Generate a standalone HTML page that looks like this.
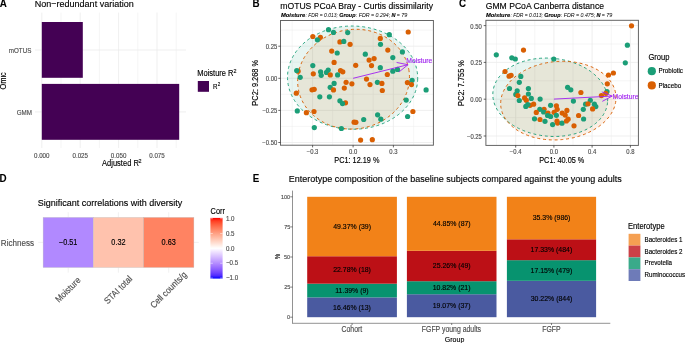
<!DOCTYPE html>
<html><head><meta charset="utf-8"><style>
html,body{margin:0;padding:0;background:#fff;}
svg{display:block;will-change:transform;font-family:"Liberation Sans",sans-serif;}
</style></head><body>
<svg width="685" height="343" viewBox="0 0 685 343">
<rect width="685" height="343" fill="#fff"/>
<text x="-0.15" y="6.90" font-size="9.80" fill="#000" stroke="#000" stroke-width="0.07" style="font-weight:bold" transform="matrix(1 0 0 1.0300 0 -0.207)">A</text>
<text x="34.69" y="7.00" font-size="9.04" fill="#000" stroke="#000" stroke-width="0.13" transform="matrix(1 0 0 1.0800 0 -0.560)">Non−redundant variation</text>
<line x1="61.00" y1="12.60" x2="61.00" y2="148.00" stroke="#EBEBEB" stroke-width="0.50"/>
<line x1="99.40" y1="12.60" x2="99.40" y2="148.00" stroke="#EBEBEB" stroke-width="0.50"/>
<line x1="137.80" y1="12.60" x2="137.80" y2="148.00" stroke="#EBEBEB" stroke-width="0.50"/>
<line x1="176.20" y1="12.60" x2="176.20" y2="148.00" stroke="#EBEBEB" stroke-width="0.50"/>
<line x1="41.80" y1="12.60" x2="41.80" y2="148.00" stroke="#EBEBEB" stroke-width="0.80"/>
<line x1="80.20" y1="12.60" x2="80.20" y2="148.00" stroke="#EBEBEB" stroke-width="0.80"/>
<line x1="118.60" y1="12.60" x2="118.60" y2="148.00" stroke="#EBEBEB" stroke-width="0.80"/>
<line x1="157.00" y1="12.60" x2="157.00" y2="148.00" stroke="#EBEBEB" stroke-width="0.80"/>
<line x1="35.00" y1="50.00" x2="186.00" y2="50.00" stroke="#EBEBEB" stroke-width="0.80"/>
<line x1="35.00" y1="111.90" x2="186.00" y2="111.90" stroke="#EBEBEB" stroke-width="0.80"/>
<rect x="41.80" y="22.00" width="41.00" height="55.80" fill="#440154"/>
<rect x="41.80" y="83.90" width="137.40" height="55.90" fill="#440154"/>
<text x="8.79" y="53.00" font-size="6.25" fill="#4D4D4D" stroke="#4D4D4D" stroke-width="0.13" transform="matrix(1 0 0 1.1200 0 -6.360)">mOTUS</text>
<text x="16.65" y="114.90" font-size="6.25" fill="#4D4D4D" stroke="#4D4D4D" stroke-width="0.13" transform="matrix(1 0 0 1.1200 0 -13.788)">GMM</text>
<text x="-2.83" y="80.80" font-size="7.40" fill="#000" stroke="#000" stroke-width="0.13" transform="rotate(-90 5.80 80.80) matrix(1 0 0 1.1200 0 -9.696)">Omic</text>
<text x="34.02" y="158.00" font-size="6.20" fill="#4D4D4D" stroke="#4D4D4D" stroke-width="0.13" transform="matrix(1 0 0 1.1200 0 -18.960)">0.000</text>
<text x="72.47" y="158.00" font-size="6.20" fill="#4D4D4D" stroke="#4D4D4D" stroke-width="0.13" transform="matrix(1 0 0 1.1200 0 -18.960)">0.025</text>
<text x="110.82" y="158.00" font-size="6.20" fill="#4D4D4D" stroke="#4D4D4D" stroke-width="0.13" transform="matrix(1 0 0 1.1200 0 -18.960)">0.050</text>
<text x="149.27" y="158.00" font-size="6.20" fill="#4D4D4D" stroke="#4D4D4D" stroke-width="0.13" transform="matrix(1 0 0 1.1200 0 -18.960)">0.075</text>
<text x="102.10" y="166.00" font-size="7.52" fill="#000" stroke="#000" stroke-width="0.13" transform="matrix(1 0 0 1.1200 0 -19.920)">Adjusted R</text>
<text x="138.55" y="162.80" font-size="5.40" fill="#000" stroke="#000" stroke-width="0.13" transform="matrix(1 0 0 1.1200 0 -19.536)">2</text>
<text x="197.21" y="75.80" font-size="7.52" fill="#000" stroke="#000" stroke-width="0.13" transform="matrix(1 0 0 1.1200 0 -9.096)">Moisture R</text>
<text x="233.55" y="73.10" font-size="5.40" fill="#000" stroke="#000" stroke-width="0.13" transform="matrix(1 0 0 1.1200 0 -8.772)">2</text>
<rect x="197.80" y="81.00" width="11.20" height="10.80" fill="#440154"/>
<text x="213.12" y="88.60" font-size="6.20" fill="#000" stroke="#000" stroke-width="0.13" transform="matrix(1 0 0 1.1200 0 -10.632)">R</text>
<text x="217.69" y="86.00" font-size="4.40" fill="#000" stroke="#000" stroke-width="0.13" transform="matrix(1 0 0 1.1200 0 -10.320)">2</text>
<text x="252.39" y="6.90" font-size="9.80" fill="#000" stroke="#000" stroke-width="0.07" style="font-weight:bold" transform="matrix(1 0 0 1.0300 0 -0.207)">B</text>
<text x="280.26" y="8.80" font-size="8.62" fill="#000" stroke="#000" stroke-width="0.13" transform="matrix(1 0 0 1.0800 0 -0.704)">mOTUS PCoA Bray - Curtis dissimilarity</text>
<text x="281.01" y="16.80" font-size="5.79" fill="#000" stroke="#000" stroke-width="0.13" style="font-weight:bold;font-style:italic">Moisture</text>
<text x="305.44" y="16.80" font-size="4.98" fill="#000" style="font-style:italic" transform="matrix(1 0 0 1.1000 0 -1.680)">: FDR = 0.013;</text>
<text x="339.25" y="16.80" font-size="5.42" fill="#000" stroke="#000" stroke-width="0.13" style="font-weight:bold;font-style:italic">Group</text>
<text x="355.84" y="16.80" font-size="5.27" fill="#000" style="font-style:italic" transform="matrix(1 0 0 1.1000 0 -1.680)">: FDR = 0.294;</text>
<text x="391.51" y="16.80" font-size="5.50" fill="#000" stroke="#000" stroke-width="0.13" style="font-weight:bold;font-style:italic">N</text>
<text x="396.68" y="16.80" font-size="5.20" fill="#000" style="font-style:italic" transform="matrix(1 0 0 1.1000 0 -1.680)">=</text>
<text x="401.28" y="16.80" font-size="5.55" fill="#000" style="font-style:italic" transform="matrix(1 0 0 1.1000 0 -1.680)">79</text>
<g>
<rect x="280.50" y="20.50" width="152.90" height="124.70" fill="#fff"/>
<line x1="292.20" y1="20.50" x2="292.20" y2="145.20" stroke="#EBEBEB" stroke-width="0.45"/>
<line x1="332.70" y1="20.50" x2="332.70" y2="145.20" stroke="#EBEBEB" stroke-width="0.45"/>
<line x1="373.20" y1="20.50" x2="373.20" y2="145.20" stroke="#EBEBEB" stroke-width="0.45"/>
<line x1="413.70" y1="20.50" x2="413.70" y2="145.20" stroke="#EBEBEB" stroke-width="0.45"/>
<line x1="280.50" y1="30.10" x2="433.40" y2="30.10" stroke="#EBEBEB" stroke-width="0.45"/>
<line x1="280.50" y1="62.20" x2="433.40" y2="62.20" stroke="#EBEBEB" stroke-width="0.45"/>
<line x1="280.50" y1="94.30" x2="433.40" y2="94.30" stroke="#EBEBEB" stroke-width="0.45"/>
<line x1="280.50" y1="126.40" x2="433.40" y2="126.40" stroke="#EBEBEB" stroke-width="0.45"/>
<line x1="312.60" y1="20.50" x2="312.60" y2="145.20" stroke="#EBEBEB" stroke-width="0.80"/>
<line x1="353.10" y1="20.50" x2="353.10" y2="145.20" stroke="#EBEBEB" stroke-width="0.80"/>
<line x1="393.40" y1="20.50" x2="393.40" y2="145.20" stroke="#EBEBEB" stroke-width="0.80"/>
<line x1="280.50" y1="46.20" x2="433.40" y2="46.20" stroke="#EBEBEB" stroke-width="0.80"/>
<line x1="280.50" y1="78.30" x2="433.40" y2="78.30" stroke="#EBEBEB" stroke-width="0.80"/>
<line x1="280.50" y1="110.40" x2="433.40" y2="110.40" stroke="#EBEBEB" stroke-width="0.80"/>
<line x1="280.50" y1="142.50" x2="433.40" y2="142.50" stroke="#EBEBEB" stroke-width="0.80"/>
<clipPath id="cb"><rect x="280.50" y="20.50" width="152.90" height="124.70"/></clipPath>
<g clip-path="url(#cb)">
<ellipse cx="352.60" cy="77.64" rx="65.10" ry="51.60" transform="rotate(1.09 352.60 77.64)" fill="#1B9E77" fill-opacity="0.1" stroke="none"/>
<ellipse cx="353.55" cy="79.18" rx="56.10" ry="49.68" transform="rotate(-10.05 353.55 79.18)" fill="#D95F02" fill-opacity="0.1" stroke="none"/>
<ellipse cx="352.60" cy="77.64" rx="65.10" ry="51.60" transform="rotate(1.09 352.60 77.64)" fill="none" stroke="#1B9E77" stroke-width="0.9" stroke-dasharray="2.9 2.9"/>
<ellipse cx="353.55" cy="79.18" rx="56.10" ry="49.68" transform="rotate(-10.05 353.55 79.18)" fill="none" stroke="#D95F02" stroke-width="0.9" stroke-dasharray="2.9 2.9"/>
<circle cx="328.50" cy="29.70" r="2.60" fill="#1B9E77"/>
<circle cx="333.50" cy="32.40" r="2.60" fill="#1B9E77"/>
<circle cx="347.70" cy="32.60" r="2.60" fill="#1B9E77"/>
<circle cx="312.80" cy="36.50" r="2.60" fill="#D95F02"/>
<circle cx="320.40" cy="37.30" r="2.60" fill="#D95F02"/>
<circle cx="317.40" cy="39.80" r="2.60" fill="#1B9E77"/>
<circle cx="339.90" cy="41.90" r="2.60" fill="#D95F02"/>
<circle cx="343.80" cy="41.40" r="2.60" fill="#1B9E77"/>
<circle cx="350.10" cy="44.30" r="2.60" fill="#D95F02"/>
<circle cx="331.70" cy="51.10" r="2.60" fill="#D95F02"/>
<circle cx="337.20" cy="53.00" r="2.60" fill="#1B9E77"/>
<circle cx="389.30" cy="34.70" r="2.60" fill="#1B9E77"/>
<circle cx="408.20" cy="32.00" r="2.60" fill="#D95F02"/>
<circle cx="380.30" cy="38.40" r="2.60" fill="#D95F02"/>
<circle cx="380.50" cy="44.30" r="2.60" fill="#1B9E77"/>
<circle cx="387.80" cy="50.10" r="2.60" fill="#D95F02"/>
<circle cx="402.40" cy="51.90" r="2.60" fill="#1B9E77"/>
<circle cx="365.30" cy="54.20" r="2.60" fill="#1B9E77"/>
<circle cx="334.10" cy="62.40" r="2.60" fill="#D95F02"/>
<circle cx="355.70" cy="65.30" r="2.60" fill="#D95F02"/>
<circle cx="312.80" cy="65.60" r="2.60" fill="#1B9E77"/>
<circle cx="298.10" cy="71.20" r="2.60" fill="#D95F02"/>
<circle cx="296.70" cy="70.60" r="2.60" fill="#1B9E77"/>
<circle cx="320.60" cy="71.80" r="2.60" fill="#1B9E77"/>
<circle cx="328.20" cy="70.00" r="2.60" fill="#1B9E77"/>
<circle cx="326.50" cy="72.40" r="2.60" fill="#1B9E77"/>
<circle cx="340.50" cy="70.60" r="2.60" fill="#D95F02"/>
<circle cx="342.80" cy="71.80" r="2.60" fill="#D95F02"/>
<circle cx="313.30" cy="73.80" r="2.60" fill="#D95F02"/>
<circle cx="321.20" cy="75.30" r="2.60" fill="#1B9E77"/>
<circle cx="330.30" cy="74.90" r="2.60" fill="#D95F02"/>
<circle cx="337.60" cy="74.90" r="2.60" fill="#1B9E77"/>
<circle cx="300.20" cy="77.30" r="2.60" fill="#1B9E77"/>
<circle cx="334.10" cy="83.40" r="2.60" fill="#1B9E77"/>
<circle cx="346.10" cy="82.30" r="2.60" fill="#D95F02"/>
<circle cx="351.90" cy="83.80" r="2.60" fill="#D95F02"/>
<circle cx="330.20" cy="87.30" r="2.60" fill="#1B9E77"/>
<circle cx="333.50" cy="89.90" r="2.60" fill="#D95F02"/>
<circle cx="344.30" cy="88.10" r="2.60" fill="#D95F02"/>
<circle cx="312.00" cy="89.80" r="2.60" fill="#D95F02"/>
<circle cx="314.20" cy="89.30" r="2.60" fill="#D95F02"/>
<circle cx="296.30" cy="93.20" r="2.60" fill="#D95F02"/>
<circle cx="319.80" cy="96.80" r="2.60" fill="#1B9E77"/>
<circle cx="329.40" cy="96.80" r="2.60" fill="#1B9E77"/>
<circle cx="369.10" cy="60.10" r="2.60" fill="#D95F02"/>
<circle cx="374.10" cy="58.60" r="2.60" fill="#D95F02"/>
<circle cx="392.80" cy="57.60" r="2.60" fill="#1B9E77"/>
<circle cx="371.50" cy="65.60" r="2.60" fill="#D95F02"/>
<circle cx="380.30" cy="67.70" r="2.60" fill="#1B9E77"/>
<circle cx="392.80" cy="71.20" r="2.60" fill="#1B9E77"/>
<circle cx="397.50" cy="69.40" r="2.60" fill="#1B9E77"/>
<circle cx="387.30" cy="74.50" r="2.60" fill="#D95F02"/>
<circle cx="366.50" cy="79.10" r="2.60" fill="#D95F02"/>
<circle cx="377.40" cy="82.30" r="2.60" fill="#1B9E77"/>
<circle cx="381.90" cy="83.40" r="2.60" fill="#D95F02"/>
<circle cx="370.00" cy="84.60" r="2.60" fill="#D95F02"/>
<circle cx="382.30" cy="90.50" r="2.60" fill="#D95F02"/>
<circle cx="407.40" cy="82.60" r="2.60" fill="#D95F02"/>
<circle cx="412.10" cy="80.30" r="2.60" fill="#1B9E77"/>
<circle cx="411.50" cy="84.60" r="2.60" fill="#D95F02"/>
<circle cx="426.10" cy="89.90" r="2.60" fill="#1B9E77"/>
<circle cx="339.90" cy="100.80" r="2.60" fill="#1B9E77"/>
<circle cx="345.50" cy="102.80" r="2.60" fill="#D95F02"/>
<circle cx="342.50" cy="103.60" r="2.60" fill="#1B9E77"/>
<circle cx="297.30" cy="110.90" r="2.60" fill="#1B9E77"/>
<circle cx="306.40" cy="112.70" r="2.60" fill="#D95F02"/>
<circle cx="314.00" cy="111.50" r="2.60" fill="#D95F02"/>
<circle cx="314.30" cy="127.60" r="2.60" fill="#1B9E77"/>
<circle cx="341.40" cy="128.50" r="2.60" fill="#1B9E77"/>
<circle cx="354.10" cy="122.20" r="2.60" fill="#D95F02"/>
<circle cx="355.90" cy="122.30" r="2.60" fill="#D95F02"/>
<circle cx="406.20" cy="100.10" r="2.60" fill="#1B9E77"/>
<circle cx="412.90" cy="111.50" r="2.60" fill="#D95F02"/>
<circle cx="407.60" cy="116.50" r="2.60" fill="#1B9E77"/>
<circle cx="377.60" cy="114.80" r="2.60" fill="#1B9E77"/>
<circle cx="380.80" cy="119.20" r="2.60" fill="#1B9E77"/>
<circle cx="363.70" cy="119.50" r="2.60" fill="#1B9E77"/>
<circle cx="360.60" cy="140.10" r="2.60" fill="#D95F02"/>
<circle cx="372.30" cy="139.70" r="2.60" fill="#D95F02"/>
<line x1="353.10" y1="78.30" x2="408.00" y2="64.70" stroke="#A020F0" stroke-width="0.90"/>
<line x1="408.00" y1="64.70" x2="396.62" y2="62.47" stroke="#A020F0" stroke-width="0.90"/>
<line x1="408.00" y1="64.70" x2="398.97" y2="71.99" stroke="#A020F0" stroke-width="0.90"/>
</g>
<text x="406.37" y="63.00" font-size="6.75" fill="#A020F0" stroke="#A020F0" stroke-width="0.13" transform="matrix(1 0 0 1.1200 0 -7.560)">Moisture</text>
<rect x="280.50" y="20.50" width="152.90" height="124.70" fill="none" stroke="#5e5e5e" stroke-width="0.95"/>
<line x1="312.60" y1="145.20" x2="312.60" y2="147.40" stroke="#333333" stroke-width="0.75"/>
<text x="306.76" y="154.20" font-size="5.90" fill="#4D4D4D" stroke="#4D4D4D" stroke-width="0.13" transform="matrix(1 0 0 1.1200 0 -18.504)">−0.3</text>
<line x1="353.10" y1="145.20" x2="353.10" y2="147.40" stroke="#333333" stroke-width="0.75"/>
<text x="348.98" y="154.20" font-size="5.90" fill="#4D4D4D" stroke="#4D4D4D" stroke-width="0.13" transform="matrix(1 0 0 1.1200 0 -18.504)">0.0</text>
<line x1="393.40" y1="145.20" x2="393.40" y2="147.40" stroke="#333333" stroke-width="0.75"/>
<text x="389.33" y="154.20" font-size="5.90" fill="#4D4D4D" stroke="#4D4D4D" stroke-width="0.13" transform="matrix(1 0 0 1.1200 0 -18.504)">0.3</text>
<line x1="278.30" y1="46.20" x2="280.50" y2="46.20" stroke="#333333" stroke-width="0.75"/>
<text x="265.86" y="49.15" font-size="5.90" fill="#4D4D4D" stroke="#4D4D4D" stroke-width="0.13" transform="matrix(1 0 0 1.1200 0 -5.898)">0.25</text>
<line x1="278.30" y1="78.30" x2="280.50" y2="78.30" stroke="#333333" stroke-width="0.75"/>
<text x="265.76" y="81.25" font-size="5.90" fill="#4D4D4D" stroke="#4D4D4D" stroke-width="0.13" transform="matrix(1 0 0 1.1200 0 -9.750)">0.00</text>
<line x1="278.30" y1="110.40" x2="280.50" y2="110.40" stroke="#333333" stroke-width="0.75"/>
<text x="262.41" y="113.35" font-size="5.90" fill="#4D4D4D" stroke="#4D4D4D" stroke-width="0.13" transform="matrix(1 0 0 1.1200 0 -13.602)">−0.25</text>
<line x1="278.30" y1="142.50" x2="280.50" y2="142.50" stroke="#333333" stroke-width="0.75"/>
<text x="262.32" y="145.45" font-size="5.90" fill="#4D4D4D" stroke="#4D4D4D" stroke-width="0.13" transform="matrix(1 0 0 1.1200 0 -17.454)">−0.50</text>
</g>
<text x="334.34" y="162.80" font-size="7.32" fill="#000" stroke="#000" stroke-width="0.13" transform="matrix(1 0 0 1.1600 0 -26.048)">PC1: 12.19 %</text>
<text x="235.52" y="82.70" font-size="7.45" fill="#000" stroke="#000" stroke-width="0.13" transform="rotate(-90 258.50 82.70) matrix(1 0 0 1.1200 0 -9.924)">PC2: 9.268 %</text>
<text x="458.99" y="6.90" font-size="9.80" fill="#000" stroke="#000" stroke-width="0.07" style="font-weight:bold" transform="matrix(1 0 0 1.0300 0 -0.207)">C</text>
<text x="485.70" y="9.10" font-size="8.62" fill="#000" stroke="#000" stroke-width="0.13" transform="matrix(1 0 0 1.0800 0 -0.728)">GMM PCoA Canberra distance</text>
<text x="486.01" y="16.80" font-size="5.79" fill="#000" stroke="#000" stroke-width="0.13" style="font-weight:bold;font-style:italic">Moisture</text>
<text x="510.44" y="16.80" font-size="4.98" fill="#000" style="font-style:italic" transform="matrix(1 0 0 1.1000 0 -1.680)">: FDR = 0.013;</text>
<text x="544.25" y="16.80" font-size="5.42" fill="#000" stroke="#000" stroke-width="0.13" style="font-weight:bold;font-style:italic">Group</text>
<text x="560.84" y="16.80" font-size="5.27" fill="#000" style="font-style:italic" transform="matrix(1 0 0 1.1000 0 -1.680)">: FDR = 0.475;</text>
<text x="596.51" y="16.80" font-size="5.50" fill="#000" stroke="#000" stroke-width="0.13" style="font-weight:bold;font-style:italic">N</text>
<text x="601.67" y="16.80" font-size="5.20" fill="#000" style="font-style:italic" transform="matrix(1 0 0 1.1000 0 -1.680)">=</text>
<text x="606.28" y="16.80" font-size="5.55" fill="#000" style="font-style:italic" transform="matrix(1 0 0 1.1000 0 -1.680)">79</text>
<g>
<rect x="485.90" y="20.30" width="152.50" height="125.10" fill="#fff"/>
<line x1="496.50" y1="20.30" x2="496.50" y2="145.40" stroke="#EBEBEB" stroke-width="0.45"/>
<line x1="534.80" y1="20.30" x2="534.80" y2="145.40" stroke="#EBEBEB" stroke-width="0.45"/>
<line x1="573.00" y1="20.30" x2="573.00" y2="145.40" stroke="#EBEBEB" stroke-width="0.45"/>
<line x1="611.30" y1="20.30" x2="611.30" y2="145.40" stroke="#EBEBEB" stroke-width="0.45"/>
<line x1="485.90" y1="44.00" x2="638.40" y2="44.00" stroke="#EBEBEB" stroke-width="0.45"/>
<line x1="485.90" y1="80.80" x2="638.40" y2="80.80" stroke="#EBEBEB" stroke-width="0.45"/>
<line x1="485.90" y1="117.60" x2="638.40" y2="117.60" stroke="#EBEBEB" stroke-width="0.45"/>
<line x1="515.70" y1="20.30" x2="515.70" y2="145.40" stroke="#EBEBEB" stroke-width="0.80"/>
<line x1="553.90" y1="20.30" x2="553.90" y2="145.40" stroke="#EBEBEB" stroke-width="0.80"/>
<line x1="592.10" y1="20.30" x2="592.10" y2="145.40" stroke="#EBEBEB" stroke-width="0.80"/>
<line x1="630.40" y1="20.30" x2="630.40" y2="145.40" stroke="#EBEBEB" stroke-width="0.80"/>
<line x1="485.90" y1="25.60" x2="638.40" y2="25.60" stroke="#EBEBEB" stroke-width="0.80"/>
<line x1="485.90" y1="62.40" x2="638.40" y2="62.40" stroke="#EBEBEB" stroke-width="0.80"/>
<line x1="485.90" y1="99.20" x2="638.40" y2="99.20" stroke="#EBEBEB" stroke-width="0.80"/>
<line x1="485.90" y1="136.00" x2="638.40" y2="136.00" stroke="#EBEBEB" stroke-width="0.80"/>
<clipPath id="cc"><rect x="485.90" y="20.30" width="152.50" height="125.10"/></clipPath>
<g clip-path="url(#cc)">
<ellipse cx="550.24" cy="97.28" rx="57.55" ry="39.02" transform="rotate(5.16 550.24 97.28)" fill="#1B9E77" fill-opacity="0.1" stroke="none"/>
<ellipse cx="558.34" cy="100.61" rx="57.81" ry="39.14" transform="rotate(-5.32 558.34 100.61)" fill="#D95F02" fill-opacity="0.1" stroke="none"/>
<ellipse cx="550.24" cy="97.28" rx="57.55" ry="39.02" transform="rotate(5.16 550.24 97.28)" fill="none" stroke="#1B9E77" stroke-width="0.9" stroke-dasharray="2.9 2.9"/>
<ellipse cx="558.34" cy="100.61" rx="57.81" ry="39.14" transform="rotate(-5.32 558.34 100.61)" fill="none" stroke="#D95F02" stroke-width="0.9" stroke-dasharray="2.9 2.9"/>
<circle cx="530.00" cy="105.30" r="2.60" fill="#D95F02"/>
<circle cx="496.30" cy="54.80" r="2.60" fill="#1B9E77"/>
<circle cx="523.50" cy="50.10" r="2.60" fill="#D95F02"/>
<circle cx="511.80" cy="57.80" r="2.60" fill="#1B9E77"/>
<circle cx="515.30" cy="59.00" r="2.60" fill="#1B9E77"/>
<circle cx="553.80" cy="59.00" r="2.60" fill="#1B9E77"/>
<circle cx="631.50" cy="25.80" r="2.60" fill="#D95F02"/>
<circle cx="627.40" cy="45.20" r="2.60" fill="#1B9E77"/>
<circle cx="505.00" cy="71.50" r="2.60" fill="#D95F02"/>
<circle cx="509.10" cy="76.20" r="2.60" fill="#D95F02"/>
<circle cx="511.10" cy="75.30" r="2.60" fill="#D95F02"/>
<circle cx="520.80" cy="76.40" r="2.60" fill="#1B9E77"/>
<circle cx="519.30" cy="82.30" r="2.60" fill="#1B9E77"/>
<circle cx="509.50" cy="88.50" r="2.60" fill="#1B9E77"/>
<circle cx="517.20" cy="90.80" r="2.60" fill="#1B9E77"/>
<circle cx="528.40" cy="88.50" r="2.60" fill="#1B9E77"/>
<circle cx="528.40" cy="94.00" r="2.60" fill="#1B9E77"/>
<circle cx="515.80" cy="94.40" r="2.60" fill="#1B9E77"/>
<circle cx="517.90" cy="95.60" r="2.60" fill="#D95F02"/>
<circle cx="625.30" cy="62.80" r="2.60" fill="#1B9E77"/>
<circle cx="608.50" cy="75.00" r="2.60" fill="#D95F02"/>
<circle cx="613.40" cy="73.00" r="2.60" fill="#D95F02"/>
<circle cx="607.30" cy="83.80" r="2.60" fill="#D95F02"/>
<circle cx="567.60" cy="87.30" r="2.60" fill="#1B9E77"/>
<circle cx="570.80" cy="89.80" r="2.60" fill="#1B9E77"/>
<circle cx="580.90" cy="92.50" r="2.60" fill="#D95F02"/>
<circle cx="524.60" cy="97.90" r="2.60" fill="#D95F02"/>
<circle cx="531.30" cy="98.40" r="2.60" fill="#1B9E77"/>
<circle cx="526.30" cy="100.30" r="2.60" fill="#D95F02"/>
<circle cx="519.30" cy="100.50" r="2.60" fill="#1B9E77"/>
<circle cx="540.10" cy="99.10" r="2.60" fill="#1B9E77"/>
<circle cx="533.60" cy="104.20" r="2.60" fill="#D95F02"/>
<circle cx="527.80" cy="104.60" r="2.60" fill="#1B9E77"/>
<circle cx="525.80" cy="106.40" r="2.60" fill="#1B9E77"/>
<circle cx="550.60" cy="105.30" r="2.60" fill="#1B9E77"/>
<circle cx="556.40" cy="105.80" r="2.60" fill="#D95F02"/>
<circle cx="557.20" cy="109.30" r="2.60" fill="#D95F02"/>
<circle cx="544.10" cy="109.30" r="2.60" fill="#D95F02"/>
<circle cx="539.80" cy="109.30" r="2.60" fill="#1B9E77"/>
<circle cx="543.60" cy="112.00" r="2.60" fill="#1B9E77"/>
<circle cx="536.30" cy="112.40" r="2.60" fill="#D95F02"/>
<circle cx="554.10" cy="112.30" r="2.60" fill="#D95F02"/>
<circle cx="548.00" cy="113.10" r="2.60" fill="#D95F02"/>
<circle cx="547.60" cy="115.50" r="2.60" fill="#1B9E77"/>
<circle cx="550.60" cy="116.50" r="2.60" fill="#1B9E77"/>
<circle cx="556.40" cy="115.30" r="2.60" fill="#1B9E77"/>
<circle cx="562.20" cy="113.10" r="2.60" fill="#D95F02"/>
<circle cx="534.50" cy="118.80" r="2.60" fill="#1B9E77"/>
<circle cx="540.00" cy="119.50" r="2.60" fill="#D95F02"/>
<circle cx="545.00" cy="121.30" r="2.60" fill="#1B9E77"/>
<circle cx="557.00" cy="121.20" r="2.60" fill="#D95F02"/>
<circle cx="557.60" cy="123.10" r="2.60" fill="#D95F02"/>
<circle cx="552.60" cy="124.60" r="2.60" fill="#1B9E77"/>
<circle cx="562.00" cy="123.20" r="2.60" fill="#1B9E77"/>
<circle cx="607.00" cy="91.60" r="2.60" fill="#1B9E77"/>
<circle cx="601.40" cy="95.60" r="2.60" fill="#D95F02"/>
<circle cx="605.80" cy="93.30" r="2.60" fill="#D95F02"/>
<circle cx="573.40" cy="101.10" r="2.60" fill="#1B9E77"/>
<circle cx="590.30" cy="100.30" r="2.60" fill="#1B9E77"/>
<circle cx="585.60" cy="104.20" r="2.60" fill="#1B9E77"/>
<circle cx="588.00" cy="103.80" r="2.60" fill="#D95F02"/>
<circle cx="594.40" cy="104.20" r="2.60" fill="#1B9E77"/>
<circle cx="595.80" cy="106.60" r="2.60" fill="#1B9E77"/>
<circle cx="592.60" cy="108.90" r="2.60" fill="#D95F02"/>
<circle cx="583.30" cy="109.30" r="2.60" fill="#1B9E77"/>
<circle cx="566.90" cy="110.40" r="2.60" fill="#D95F02"/>
<circle cx="565.20" cy="115.10" r="2.60" fill="#D95F02"/>
<circle cx="568.10" cy="119.20" r="2.60" fill="#D95F02"/>
<circle cx="578.60" cy="115.50" r="2.60" fill="#D95F02"/>
<circle cx="583.60" cy="119.00" r="2.60" fill="#1B9E77"/>
<circle cx="566.40" cy="121.00" r="2.60" fill="#D95F02"/>
<circle cx="574.00" cy="125.80" r="2.60" fill="#D95F02"/>
<line x1="553.90" y1="99.10" x2="612.20" y2="96.10" stroke="#A020F0" stroke-width="0.90"/>
<line x1="612.20" y1="96.10" x2="601.82" y2="91.89" stroke="#A020F0" stroke-width="0.90"/>
<line x1="612.20" y1="96.10" x2="602.31" y2="101.35" stroke="#A020F0" stroke-width="0.90"/>
</g>
<text x="612.57" y="98.60" font-size="6.75" fill="#A020F0" stroke="#A020F0" stroke-width="0.13" transform="matrix(1 0 0 1.1200 0 -11.832)">Moisture</text>
<rect x="485.90" y="20.30" width="152.50" height="125.10" fill="none" stroke="#5e5e5e" stroke-width="0.95"/>
<line x1="515.70" y1="145.40" x2="515.70" y2="147.60" stroke="#333333" stroke-width="0.75"/>
<text x="509.81" y="154.20" font-size="5.90" fill="#4D4D4D" stroke="#4D4D4D" stroke-width="0.13" transform="matrix(1 0 0 1.1200 0 -18.504)">−0.4</text>
<line x1="553.90" y1="145.40" x2="553.90" y2="147.60" stroke="#333333" stroke-width="0.75"/>
<text x="549.78" y="154.20" font-size="5.90" fill="#4D4D4D" stroke="#4D4D4D" stroke-width="0.13" transform="matrix(1 0 0 1.1200 0 -18.504)">0.0</text>
<line x1="592.10" y1="145.40" x2="592.10" y2="147.60" stroke="#333333" stroke-width="0.75"/>
<text x="587.98" y="154.20" font-size="5.90" fill="#4D4D4D" stroke="#4D4D4D" stroke-width="0.13" transform="matrix(1 0 0 1.1200 0 -18.504)">0.4</text>
<line x1="630.40" y1="145.40" x2="630.40" y2="147.60" stroke="#333333" stroke-width="0.75"/>
<text x="626.33" y="154.20" font-size="5.90" fill="#4D4D4D" stroke="#4D4D4D" stroke-width="0.13" transform="matrix(1 0 0 1.1200 0 -18.504)">0.8</text>
<line x1="483.70" y1="25.60" x2="485.90" y2="25.60" stroke="#333333" stroke-width="0.75"/>
<text x="470.36" y="28.55" font-size="5.90" fill="#4D4D4D" stroke="#4D4D4D" stroke-width="0.13" transform="matrix(1 0 0 1.1200 0 -3.426)">0.50</text>
<line x1="483.70" y1="62.40" x2="485.90" y2="62.40" stroke="#333333" stroke-width="0.75"/>
<text x="470.46" y="65.35" font-size="5.90" fill="#4D4D4D" stroke="#4D4D4D" stroke-width="0.13" transform="matrix(1 0 0 1.1200 0 -7.842)">0.25</text>
<line x1="483.70" y1="99.20" x2="485.90" y2="99.20" stroke="#333333" stroke-width="0.75"/>
<text x="470.36" y="102.15" font-size="5.90" fill="#4D4D4D" stroke="#4D4D4D" stroke-width="0.13" transform="matrix(1 0 0 1.1200 0 -12.258)">0.00</text>
<line x1="483.70" y1="136.00" x2="485.90" y2="136.00" stroke="#333333" stroke-width="0.75"/>
<text x="467.01" y="138.95" font-size="5.90" fill="#4D4D4D" stroke="#4D4D4D" stroke-width="0.13" transform="matrix(1 0 0 1.1200 0 -16.674)">−0.25</text>
</g>
<text x="539.24" y="162.80" font-size="7.32" fill="#000" stroke="#000" stroke-width="0.13" transform="matrix(1 0 0 1.1600 0 -26.048)">PC1: 40.05 %</text>
<text x="440.82" y="82.90" font-size="7.45" fill="#000" stroke="#000" stroke-width="0.13" transform="rotate(-90 463.80 82.90) matrix(1 0 0 1.1200 0 -9.948)">PC2: 7.755 %</text>
<text x="648.44" y="59.90" font-size="7.60" fill="#000" stroke="#000" stroke-width="0.13" transform="matrix(1 0 0 1.1200 0 -7.188)">Group</text>
<circle cx="651.8" cy="71.2" r="4.1" fill="#1B9E77"/>
<circle cx="651.8" cy="85.4" r="4.1" fill="#D95F02"/>
<text x="658.51" y="73.40" font-size="6.30" fill="#000" stroke="#000" stroke-width="0.13" transform="matrix(1 0 0 1.1200 0 -8.808)">Probiotic</text>
<text x="658.51" y="87.60" font-size="6.30" fill="#000" stroke="#000" stroke-width="0.13" transform="matrix(1 0 0 1.1200 0 -10.512)">Placebo</text>
<text x="-0.61" y="181.70" font-size="9.80" fill="#000" stroke="#000" stroke-width="0.07" style="font-weight:bold" transform="matrix(1 0 0 1.0300 0 -5.451)">D</text>
<text x="37.72" y="206.30" font-size="9.01" fill="#000" stroke="#000" stroke-width="0.13" transform="matrix(1 0 0 1.0800 0 -16.504)">Significant correlations with diversity</text>
<line x1="68.20" y1="212.20" x2="68.20" y2="217.40" stroke="#EBEBEB" stroke-width="0.70"/>
<line x1="68.20" y1="267.50" x2="68.20" y2="272.70" stroke="#EBEBEB" stroke-width="0.70"/>
<line x1="118.40" y1="212.20" x2="118.40" y2="217.40" stroke="#EBEBEB" stroke-width="0.70"/>
<line x1="118.40" y1="267.50" x2="118.40" y2="272.70" stroke="#EBEBEB" stroke-width="0.70"/>
<line x1="168.70" y1="212.20" x2="168.70" y2="217.40" stroke="#EBEBEB" stroke-width="0.70"/>
<line x1="168.70" y1="267.50" x2="168.70" y2="272.70" stroke="#EBEBEB" stroke-width="0.70"/>
<line x1="38.20" y1="242.40" x2="43.10" y2="242.40" stroke="#EBEBEB" stroke-width="0.70"/>
<line x1="193.90" y1="242.40" x2="198.80" y2="242.40" stroke="#EBEBEB" stroke-width="0.70"/>
<rect x="43.10" y="217.40" width="50.20" height="50.10" fill="#b189ff" stroke="#BEBEBE" stroke-width="0.35"/>
<rect x="93.30" y="217.40" width="50.20" height="50.10" fill="#ffc2ad" stroke="#BEBEBE" stroke-width="0.35"/>
<rect x="143.50" y="217.40" width="50.40" height="50.10" fill="#ff8362" stroke="#BEBEBE" stroke-width="0.35"/>
<text x="58.94" y="245.30" font-size="7.30" fill="#000" stroke="#000" stroke-width="0.13" transform="matrix(1 0 0 1.1200 0 -29.436)">−0.51</text>
<text x="111.33" y="245.30" font-size="7.30" fill="#000" stroke="#000" stroke-width="0.13" transform="matrix(1 0 0 1.1200 0 -29.436)">0.32</text>
<text x="161.63" y="245.30" font-size="7.30" fill="#000" stroke="#000" stroke-width="0.13" transform="matrix(1 0 0 1.1200 0 -29.436)">0.63</text>
<text x="0.84" y="246.10" font-size="8.10" fill="#4D4D4D" stroke="#4D4D4D" stroke-width="0.13" transform="matrix(1 0 0 1.1200 0 -29.532)">Richness</text>
<text x="52.38" y="292.80" font-size="8.20" fill="#4D4D4D" stroke="#4D4D4D" stroke-width="0.13" transform="rotate(-45 68.10 290.00) matrix(1 0 0 1.1200 0 -35.136)">Moisture</text>
<text x="100.70" y="292.80" font-size="8.20" fill="#4D4D4D" stroke="#4D4D4D" stroke-width="0.13" transform="rotate(-45 118.40 290.00) matrix(1 0 0 1.1200 0 -35.136)">STAI total</text>
<text x="145.00" y="292.80" font-size="8.20" fill="#4D4D4D" stroke="#4D4D4D" stroke-width="0.13" transform="rotate(-45 168.70 290.00) matrix(1 0 0 1.1200 0 -35.136)">Cell counts/g</text>
<defs><linearGradient id="cbar" x1="0" y1="0" x2="0" y2="1"><stop offset="0.000" stop-color="#ff0000"/><stop offset="0.050" stop-color="#ff3e22"/><stop offset="0.100" stop-color="#ff5b3a"/><stop offset="0.150" stop-color="#ff7352"/><stop offset="0.200" stop-color="#ff8969"/><stop offset="0.250" stop-color="#ff9e81"/><stop offset="0.300" stop-color="#ffb299"/><stop offset="0.350" stop-color="#ffc6b2"/><stop offset="0.400" stop-color="#ffd9cb"/><stop offset="0.450" stop-color="#ffece5"/><stop offset="0.500" stop-color="#ffffff"/><stop offset="0.550" stop-color="#f2e7ff"/><stop offset="0.600" stop-color="#e3d0ff"/><stop offset="0.650" stop-color="#d4b9ff"/><stop offset="0.700" stop-color="#c4a2ff"/><stop offset="0.750" stop-color="#b38bff"/><stop offset="0.800" stop-color="#a074ff"/><stop offset="0.850" stop-color="#8a5dff"/><stop offset="0.900" stop-color="#7145ff"/><stop offset="0.950" stop-color="#502bff"/><stop offset="1.000" stop-color="#0000ff"/></linearGradient></defs>
<rect x="210.40" y="217.90" width="12.20" height="60.70" fill="url(#cbar)"/>
<line x1="210.40" y1="218.70" x2="212.80" y2="218.70" stroke="#fff" stroke-width="0.50"/>
<line x1="220.20" y1="218.70" x2="222.60" y2="218.70" stroke="#fff" stroke-width="0.50"/>
<text x="225.90" y="220.90" font-size="6.20" fill="#4D4D4D" stroke="#4D4D4D" stroke-width="0.13" transform="matrix(1 0 0 1.1200 0 -26.508)">1.0</text>
<line x1="210.40" y1="233.55" x2="212.80" y2="233.55" stroke="#fff" stroke-width="0.50"/>
<line x1="220.20" y1="233.55" x2="222.60" y2="233.55" stroke="#fff" stroke-width="0.50"/>
<text x="225.90" y="235.75" font-size="6.20" fill="#4D4D4D" stroke="#4D4D4D" stroke-width="0.13" transform="matrix(1 0 0 1.1200 0 -28.290)">0.5</text>
<line x1="210.40" y1="248.40" x2="212.80" y2="248.40" stroke="#fff" stroke-width="0.50"/>
<line x1="220.20" y1="248.40" x2="222.60" y2="248.40" stroke="#fff" stroke-width="0.50"/>
<text x="225.90" y="250.60" font-size="6.20" fill="#4D4D4D" stroke="#4D4D4D" stroke-width="0.13" transform="matrix(1 0 0 1.1200 0 -30.072)">0.0</text>
<line x1="210.40" y1="263.25" x2="212.80" y2="263.25" stroke="#fff" stroke-width="0.50"/>
<line x1="220.20" y1="263.25" x2="222.60" y2="263.25" stroke="#fff" stroke-width="0.50"/>
<text x="225.90" y="265.45" font-size="6.20" fill="#4D4D4D" stroke="#4D4D4D" stroke-width="0.13" transform="matrix(1 0 0 1.1200 0 -31.854)">−0.5</text>
<line x1="210.40" y1="278.10" x2="212.80" y2="278.10" stroke="#fff" stroke-width="0.50"/>
<line x1="220.20" y1="278.10" x2="222.60" y2="278.10" stroke="#fff" stroke-width="0.50"/>
<text x="225.90" y="280.30" font-size="6.20" fill="#4D4D4D" stroke="#4D4D4D" stroke-width="0.13" transform="matrix(1 0 0 1.1200 0 -33.636)">−1.0</text>
<text x="210.55" y="213.90" font-size="7.40" fill="#000" stroke="#000" stroke-width="0.13" transform="matrix(1 0 0 1.1200 0 -25.668)">Corr</text>
<text x="252.69" y="182.00" font-size="9.80" fill="#000" stroke="#000" stroke-width="0.07" style="font-weight:bold" transform="matrix(1 0 0 1.0300 0 -5.460)">E</text>
<text x="288.70" y="181.80" font-size="9.01" fill="#000" stroke="#000" stroke-width="0.13" transform="matrix(1 0 0 1.0800 0 -14.544)">Enterotype composition of the baseline subjects compared against the young adults</text>
<rect x="307.20" y="297.38" width="89.70" height="19.82" fill="#4A5AA0"/>
<rect x="307.20" y="283.67" width="89.70" height="13.71" fill="#07936F"/>
<rect x="307.20" y="256.24" width="89.70" height="27.43" fill="#BC1016"/>
<rect x="307.20" y="196.80" width="89.70" height="59.44" fill="#F28218"/>
<rect x="406.90" y="294.24" width="89.60" height="22.96" fill="#4A5AA0"/>
<rect x="406.90" y="281.21" width="89.60" height="13.03" fill="#07936F"/>
<rect x="406.90" y="250.80" width="89.60" height="30.41" fill="#BC1016"/>
<rect x="406.90" y="196.80" width="89.60" height="54.00" fill="#F28218"/>
<rect x="506.90" y="280.82" width="89.20" height="36.38" fill="#4A5AA0"/>
<rect x="506.90" y="260.17" width="89.20" height="20.65" fill="#07936F"/>
<rect x="506.90" y="239.30" width="89.20" height="20.87" fill="#BC1016"/>
<rect x="506.90" y="196.80" width="89.20" height="42.50" fill="#F28218"/>
<text x="333.08" y="309.59" font-size="6.95" fill="#000" stroke="#000" stroke-width="0.13" transform="matrix(1 0 0 1.1200 0 -37.151)">16.46% (13)</text>
<text x="335.27" y="292.83" font-size="6.95" fill="#000" stroke="#000" stroke-width="0.13" transform="matrix(1 0 0 1.1200 0 -35.139)">11.39% (9)</text>
<text x="333.14" y="272.26" font-size="6.95" fill="#000" stroke="#000" stroke-width="0.13" transform="matrix(1 0 0 1.1200 0 -32.671)">22.78% (18)</text>
<text x="333.24" y="228.82" font-size="6.95" fill="#000" stroke="#000" stroke-width="0.13" transform="matrix(1 0 0 1.1200 0 -27.458)">49.37% (39)</text>
<text x="432.73" y="308.02" font-size="6.95" fill="#000" stroke="#000" stroke-width="0.13" transform="matrix(1 0 0 1.1200 0 -36.962)">19.07% (37)</text>
<text x="432.73" y="290.03" font-size="6.95" fill="#000" stroke="#000" stroke-width="0.13" transform="matrix(1 0 0 1.1200 0 -34.803)">10.82% (21)</text>
<text x="432.79" y="268.31" font-size="6.95" fill="#000" stroke="#000" stroke-width="0.13" transform="matrix(1 0 0 1.1200 0 -32.197)">25.26% (49)</text>
<text x="432.89" y="226.10" font-size="6.95" fill="#000" stroke="#000" stroke-width="0.13" transform="matrix(1 0 0 1.1200 0 -27.132)">44.85% (87)</text>
<text x="530.71" y="301.31" font-size="6.95" fill="#000" stroke="#000" stroke-width="0.13" transform="matrix(1 0 0 1.1200 0 -36.157)">30.22% (844)</text>
<text x="530.60" y="272.79" font-size="6.95" fill="#000" stroke="#000" stroke-width="0.13" transform="matrix(1 0 0 1.1200 0 -32.735)">17.15% (479)</text>
<text x="530.60" y="252.03" font-size="6.95" fill="#000" stroke="#000" stroke-width="0.13" transform="matrix(1 0 0 1.1200 0 -30.244)">17.33% (484)</text>
<text x="532.64" y="220.35" font-size="6.95" fill="#000" stroke="#000" stroke-width="0.13" transform="matrix(1 0 0 1.1200 0 -26.442)">35.3% (986)</text>
<line x1="292.50" y1="190.60" x2="292.50" y2="323.30" stroke="#8c8c8c" stroke-width="0.95"/>
<line x1="292.00" y1="323.30" x2="610.30" y2="323.30" stroke="#8c8c8c" stroke-width="0.95"/>
<line x1="290.20" y1="317.20" x2="292.50" y2="317.20" stroke="#333333" stroke-width="0.60"/>
<text x="287.10" y="319.10" font-size="5.45" fill="#4D4D4D" stroke="#4D4D4D" stroke-width="0.13" transform="matrix(1 0 0 1.1200 0 -38.292)">0</text>
<line x1="290.20" y1="287.10" x2="292.50" y2="287.10" stroke="#333333" stroke-width="0.60"/>
<text x="284.16" y="289.00" font-size="5.45" fill="#4D4D4D" stroke="#4D4D4D" stroke-width="0.13" transform="matrix(1 0 0 1.1200 0 -34.680)">25</text>
<line x1="290.20" y1="257.00" x2="292.50" y2="257.00" stroke="#333333" stroke-width="0.60"/>
<text x="284.07" y="258.90" font-size="5.45" fill="#4D4D4D" stroke="#4D4D4D" stroke-width="0.13" transform="matrix(1 0 0 1.1200 0 -31.068)">50</text>
<line x1="290.20" y1="226.90" x2="292.50" y2="226.90" stroke="#333333" stroke-width="0.60"/>
<text x="284.16" y="228.80" font-size="5.45" fill="#4D4D4D" stroke="#4D4D4D" stroke-width="0.13" transform="matrix(1 0 0 1.1200 0 -27.456)">75</text>
<line x1="290.20" y1="196.80" x2="292.50" y2="196.80" stroke="#333333" stroke-width="0.60"/>
<text x="281.04" y="198.70" font-size="5.45" fill="#4D4D4D" stroke="#4D4D4D" stroke-width="0.13" transform="matrix(1 0 0 1.1200 0 -23.844)">100</text>
<line x1="352.05" y1="323.30" x2="352.05" y2="324.90" stroke="#333333" stroke-width="0.70"/>
<text x="341.52" y="331.80" font-size="6.90" fill="#4D4D4D" stroke="#4D4D4D" stroke-width="0.13" transform="matrix(1 0 0 1.2200 0 -72.996)">Cohort</text>
<line x1="451.70" y1="323.30" x2="451.70" y2="324.90" stroke="#333333" stroke-width="0.70"/>
<text x="421.82" y="331.80" font-size="6.90" fill="#4D4D4D" stroke="#4D4D4D" stroke-width="0.13" transform="matrix(1 0 0 1.2200 0 -72.996)">FGFP young adults</text>
<line x1="551.50" y1="323.30" x2="551.50" y2="324.90" stroke="#333333" stroke-width="0.70"/>
<text x="542.18" y="331.80" font-size="6.90" fill="#4D4D4D" stroke="#4D4D4D" stroke-width="0.13" transform="matrix(1 0 0 1.2200 0 -72.996)">FGFP</text>
<text x="444.85" y="341.60" font-size="7.00" fill="#000" stroke="#000" stroke-width="0.13" transform="matrix(1 0 0 1.1200 0 -40.992)">Group</text>
<text x="277.23" y="256.50" font-size="6.00" fill="#000" stroke="#000" stroke-width="0.13" transform="rotate(-90 279.90 256.50) matrix(1 0 0 1.1200 0 -30.780)">%</text>
<text x="628.01" y="229.30" font-size="7.60" fill="#000" stroke="#000" stroke-width="0.13" transform="matrix(1 0 0 1.1200 0 -27.516)">Enterotype</text>
<rect x="628.60" y="233.80" width="11.80" height="11.80" fill="#F5A052"/>
<text x="644.52" y="241.90" font-size="6.20" fill="#000" stroke="#000" stroke-width="0.13" transform="matrix(1 0 0 1.1200 0 -29.028)">Bacteroides 1</text>
<rect x="628.60" y="245.60" width="11.80" height="11.80" fill="#CB4147"/>
<text x="644.52" y="253.70" font-size="6.20" fill="#000" stroke="#000" stroke-width="0.13" transform="matrix(1 0 0 1.1200 0 -30.444)">Bacteroides 2</text>
<rect x="628.60" y="257.40" width="11.80" height="11.80" fill="#3AAA8A"/>
<text x="644.52" y="265.50" font-size="6.20" fill="#000" stroke="#000" stroke-width="0.13" transform="matrix(1 0 0 1.1200 0 -31.860)">Prevotella</text>
<rect x="628.60" y="269.20" width="11.80" height="11.80" fill="#6E7BB8"/>
<text x="644.52" y="277.30" font-size="6.20" fill="#000" stroke="#000" stroke-width="0.13" transform="matrix(1 0 0 1.1200 0 -33.276)">Ruminococcus</text>
</svg>
</body></html>
